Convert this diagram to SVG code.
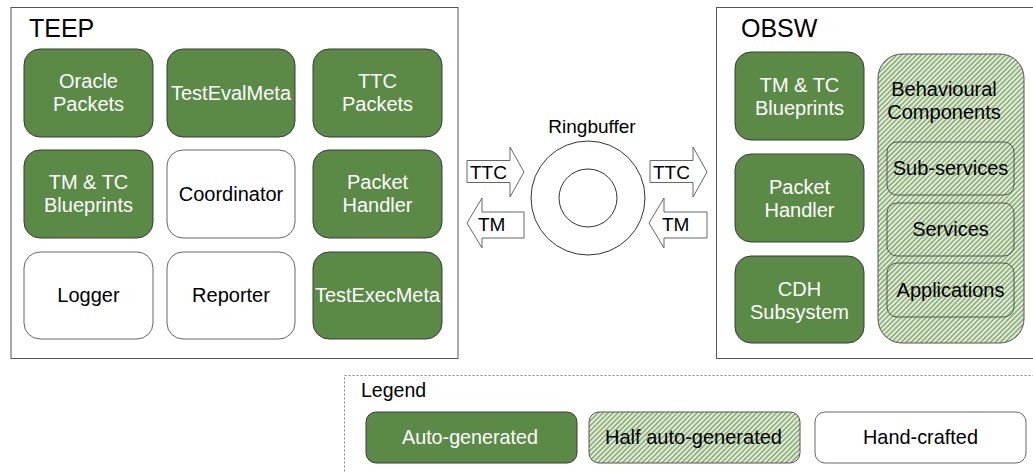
<svg xmlns="http://www.w3.org/2000/svg" width="1033" height="472" viewBox="0 0 1033 472">
  <defs>
    <pattern id="hatch" patternUnits="userSpaceOnUse" width="3.5" height="3.5" patternTransform="rotate(45)">
      <rect width="3.5" height="3.5" fill="#e4eddc"/>
      <rect width="1.7" height="3.5" fill="#8fb07c"/>
    </pattern>
  </defs>
  <style>
    text { font-family: "Liberation Sans", Arial, sans-serif; }
    .frame { fill: #fff; stroke: #555; stroke-width: 1; }
    .title { font-size: 25px; fill: #000; }
    .auto { fill: #5a8a46; stroke: #3a3a3a; stroke-width: 1; }
    .hand { fill: #fff; stroke: #666; stroke-width: 1; }
    .half { fill: url(#hatch); stroke: #555; stroke-width: 1; }
    .sub { fill: none; stroke: #555; stroke-width: 1; }
    .lw { font-size: 20px; fill: #fff; text-anchor: middle; }
    .lb { font-size: 20px; fill: #000; text-anchor: middle; }
    .arrow { fill: #fff; stroke: #666; stroke-width: 1; }
    .ring { fill: #fff; stroke: #333; stroke-width: 1; }
    .alabel { font-size: 19px; fill: #000; }
    .legend-frame { fill: #fff; stroke: #888; stroke-width: 1; stroke-dasharray: 2 2; }
    .leg { font-size: 21px; text-anchor: middle; }
  </style>

  <!-- TEEP side -->
  <g id="teep">
    <rect class="frame" x="11" y="7.5" width="447" height="351"/>
    <text class="title" x="29" y="37">TEEP</text>
  </g>
  <g id="teep-oracle-packets">
    <rect class="auto" x="24" y="49" width="129" height="88" rx="16"/>
    <text class="lw" x="88.5" y="88">Oracle</text>
    <text class="lw" x="88.5" y="111">Packets</text>
  </g>
  <g id="teep-test-eval-meta">
    <rect class="auto" x="167" y="49" width="128" height="88" rx="16"/>
    <text class="lw" x="231" y="100">TestEvalMeta</text>
  </g>
  <g id="teep-ttc-packets">
    <rect class="auto" x="313" y="49" width="129" height="88" rx="16"/>
    <text class="lw" x="377.5" y="88">TTC</text>
    <text class="lw" x="377.5" y="111">Packets</text>
  </g>
  <g id="teep-tmtc-blueprints">
    <rect class="auto" x="24" y="150" width="129" height="88" rx="16"/>
    <text class="lw" x="88.5" y="189">TM &amp; TC</text>
    <text class="lw" x="88.5" y="212">Blueprints</text>
  </g>
  <g id="teep-coordinator">
    <rect class="hand" x="167" y="150" width="128" height="88" rx="16"/>
    <text class="lb" x="231" y="201">Coordinator</text>
  </g>
  <g id="teep-packet-handler">
    <rect class="auto" x="313" y="150" width="129" height="88" rx="16"/>
    <text class="lw" x="377.5" y="189">Packet</text>
    <text class="lw" x="377.5" y="212">Handler</text>
  </g>
  <g id="teep-logger">
    <rect class="hand" x="24" y="252" width="129" height="87" rx="16"/>
    <text class="lb" x="88.5" y="302">Logger</text>
  </g>
  <g id="teep-reporter">
    <rect class="hand" x="167" y="252" width="128" height="87" rx="16"/>
    <text class="lb" x="231" y="302">Reporter</text>
  </g>
  <g id="teep-test-exec-meta">
    <rect class="auto" x="313" y="252" width="129" height="87" rx="16"/>
    <text class="lw" x="377.5" y="302" textLength="125" lengthAdjust="spacingAndGlyphs">TestExecMeta</text>
  </g>

  <!-- Ring buffer between the two sides -->
  <g id="ringbuffer">
    <text x="592" y="133" style="font-size:19px;text-anchor:middle;">Ringbuffer</text>
    <circle class="ring" cx="588" cy="198" r="57"/>
    <circle class="ring" cx="588" cy="198" r="29"/>
  </g>

  <!-- Data flow arrows -->
  <g id="connectors">
    <g id="ttc-teep-to-ring">
      <polygon class="arrow" points="467,160.5 510,160.5 510,147 524,172 510,197 510,182.5 467,182.5"/>
      <text class="alabel" x="470" y="179">TTC</text>
    </g>
    <g id="tm-ring-to-teep">
      <polygon class="arrow" points="524,212 482,212 482,198 467,223 482,248 482,238 524,238"/>
      <text class="alabel" x="478" y="231">TM</text>
    </g>
    <g id="ttc-ring-to-obsw">
      <polygon class="arrow" points="650,160.5 693,160.5 693,147 707,172 693,197 693,182.5 650,182.5"/>
      <text class="alabel" x="653" y="179">TTC</text>
    </g>
    <g id="tm-obsw-to-ring">
      <polygon class="arrow" points="707,212 664,212 664,198 649,223 664,248 664,238 707,238"/>
      <text class="alabel" x="662" y="231">TM</text>
    </g>
  </g>

  <!-- OBSW side -->
  <g id="obsw">
    <rect class="frame" x="716.5" y="7.5" width="330" height="351"/>
    <text class="title" x="741" y="37">OBSW</text>
  </g>
  <g id="obsw-tmtc-blueprints">
    <rect class="auto" x="735" y="52" width="129" height="88" rx="16"/>
    <text class="lw" x="799.5" y="92">TM &amp; TC</text>
    <text class="lw" x="799.5" y="115">Blueprints</text>
  </g>
  <g id="obsw-packet-handler">
    <rect class="auto" x="735" y="154" width="129" height="88" rx="16"/>
    <text class="lw" x="799.5" y="194">Packet</text>
    <text class="lw" x="799.5" y="217">Handler</text>
  </g>
  <g id="obsw-cdh-subsystem">
    <rect class="auto" x="735" y="256" width="129" height="87" rx="16"/>
    <text class="lw" x="799.5" y="296">CDH</text>
    <text class="lw" x="799.5" y="319">Subsystem</text>
  </g>
  <g id="obsw-behavioural-components">
    <rect class="half" x="878" y="54" width="146" height="289" rx="24"/>
    <text class="lb" x="944" y="96">Behavioural</text>
    <text class="lb" x="944" y="119">Components</text>
  </g>
  <g id="obsw-sub-services">
    <rect class="sub" x="887" y="142" width="127" height="53" rx="10"/>
    <text class="lb" x="950.5" y="175">Sub-services</text>
  </g>
  <g id="obsw-services">
    <rect class="sub" x="887" y="203" width="127" height="53" rx="10"/>
    <text class="lb" x="950.5" y="236">Services</text>
  </g>
  <g id="obsw-applications">
    <rect class="sub" x="887" y="263" width="127" height="54" rx="10"/>
    <text class="lb" x="950.5" y="297">Applications</text>
  </g>

  <!-- Legend -->
  <g id="legend">
    <rect class="legend-frame" x="344.5" y="375.5" width="700" height="120"/>
    <text x="361" y="397" style="font-size:19.5px;">Legend</text>
    <rect class="auto" x="366" y="412" width="211" height="51" rx="10"/>
    <text class="leg" x="470" y="444" fill="#fff" textLength="136" lengthAdjust="spacingAndGlyphs">Auto-generated</text>
    <rect class="half" x="589" y="412" width="211" height="51" rx="10"/>
    <text class="leg" x="693.5" y="444" fill="#000" textLength="177" lengthAdjust="spacingAndGlyphs">Half auto-generated</text>
    <rect class="hand" x="815" y="412" width="211" height="51" rx="10"/>
    <text class="leg" x="920.5" y="444" fill="#000" textLength="115" lengthAdjust="spacingAndGlyphs">Hand-crafted</text>
  </g>
</svg>
